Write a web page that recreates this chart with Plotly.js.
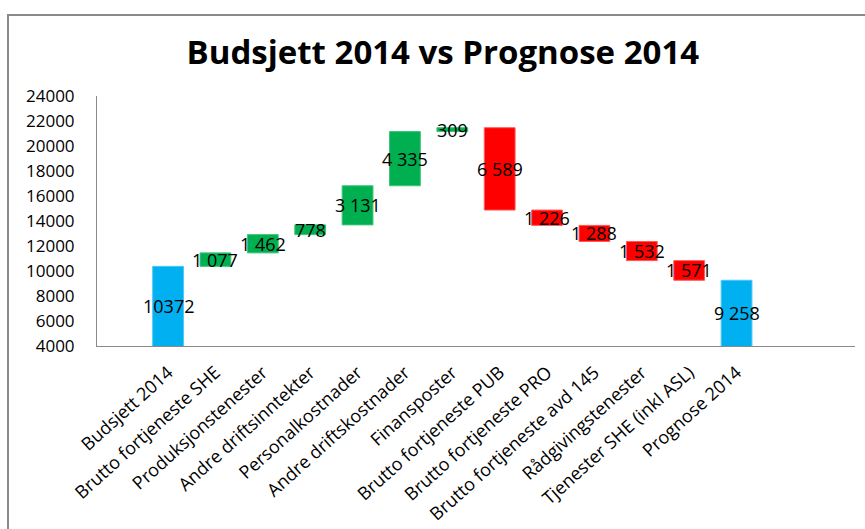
<!DOCTYPE html>
<html>
<head>
<meta charset="utf-8">
<script src="https://cdn.plot.ly/plotly-3.0.1.min.js"></script>
<style>
  html, body { margin: 0; padding: 0; background: #fff; }
  #wrap { position: relative; width: 865px; height: 529px; overflow: hidden; }
  #chart { width: 865px; height: 529px; }
  #frame { position: absolute; left: 7px; top: 14px; width: 900px; height: 600px;
           border-left: 2px solid #8a8a8a; border-top: 2px solid #8a8a8a; pointer-events: none; }
</style>
</head>
<body>
<div id="wrap">
  <div id="chart"></div>
  <div id="frame"></div>
</div>
<script>
const categories = [
  "Budsjett 2014",
  "Brutto fortjeneste SHE",
  "Produksjonstenester",
  "Andre driftsinntekter",
  "Personalkostnader",
  "Andre driftskostnader",
  "Finansposter",
  "Brutto fortjeneste PUB",
  "Brutto fortjeneste PRO",
  "Brutto fortjeneste avd 145",
  "Rådgivingstenester",
  "Tjenester SHE (inkl ASL)",
  "Prognose 2014"
];
const values = [10372, 1077, 1462, 778, 3131, 4335, 309, -6589, -1226, -1288, -1532, -1571, 9258];
const measures = ["absolute", "relative", "relative", "relative", "relative", "relative", "relative",
                  "relative", "relative", "relative", "relative", "relative", "total"];
const valueLabels = ["10372", "1 077", "1 462", "778", "3 131", "4 335", "309",
                     "6 589", "1 226", "1 288", "1 532", "1 571", "9 258"];
const yTicks = [4000, 6000, 8000, 10000, 12000, 14000, 16000, 18000, 20000, 22000, 24000];

const FONT = "Open Sans, Liberation Sans, sans-serif";
const Y_MIN = 4000, Y_MAX = 24000;

// label positions: middle of the visible part of each bar
const annotations = [];
let running = 0;
categories.forEach((c, i) => {
  let lo, hi;
  if (measures[i] === "absolute") { lo = 0; hi = values[i]; running = values[i]; }
  else if (measures[i] === "total") { lo = 0; hi = running; }
  else { lo = running; hi = running + values[i]; running = hi; }
  const a = Math.max(Math.min(lo, hi), Y_MIN), b = Math.min(Math.max(lo, hi), Y_MAX);
  annotations.push({
    x: c, y: (a + b) / 2, xref: "x", yref: "y",
    text: valueLabels[i], showarrow: false,
    font: { family: FONT, size: 18, color: "#000" },
    xanchor: "center", yanchor: "middle"
  });
});

const trace = {
  type: "waterfall",
  x: categories,
  y: values,
  measure: measures,
  textposition: "none",
  cliponaxis: true,
  connector: { visible: false },
  increasing: { marker: { color: "#00B050", line: { color: "#3cc57a", width: 1 } } },
  decreasing: { marker: { color: "#FF0000", line: { color: "#ff5a5a", width: 1 } } },
  totals: { marker: { color: "#00B0F0", line: { color: "#4cc8f4", width: 1 } } },
  hoverinfo: "x+y"
};

const layout = {
  width: 865,
  height: 529,
  margin: { l: 97, r: 10, t: 96, b: 183 },
  paper_bgcolor: "#fff",
  plot_bgcolor: "#fff",
  showlegend: false,
  waterfallgap: 0.35,
  annotations: annotations,
  title: {
    text: "<b>Budsjett 2014 vs Prognose 2014</b>",
    font: { family: FONT, size: 33, color: "#000" },
    x: 0.512, xanchor: "center",
    y: 0.90, yanchor: "middle", yref: "container"
  },
  xaxis: {
    type: "category",
    range: [-1.5, 14.5],
    showline: true, linecolor: "#8a8a8a", linewidth: 1,
    showgrid: false, zeroline: false,
    ticks: "",
    tickangle: -42,
    ticklabelstandoff: 8,
    tickfont: { family: FONT, size: 18, color: "#000" },
    automargin: false
  },
  yaxis: {
    range: [Y_MIN, Y_MAX],
    tickvals: yTicks,
    ticktext: yTicks.map(String),
    showline: true, linecolor: "#8a8a8a", linewidth: 1,
    showgrid: false, zeroline: false,
    ticks: "",
    ticklabelstandoff: 18,
    tickfont: { family: FONT, size: 17, color: "#000" },
    automargin: false
  }
};

Plotly.newPlot("chart", [trace], layout, { displayModeBar: false, staticPlot: true });
</script>
</body>
</html>
